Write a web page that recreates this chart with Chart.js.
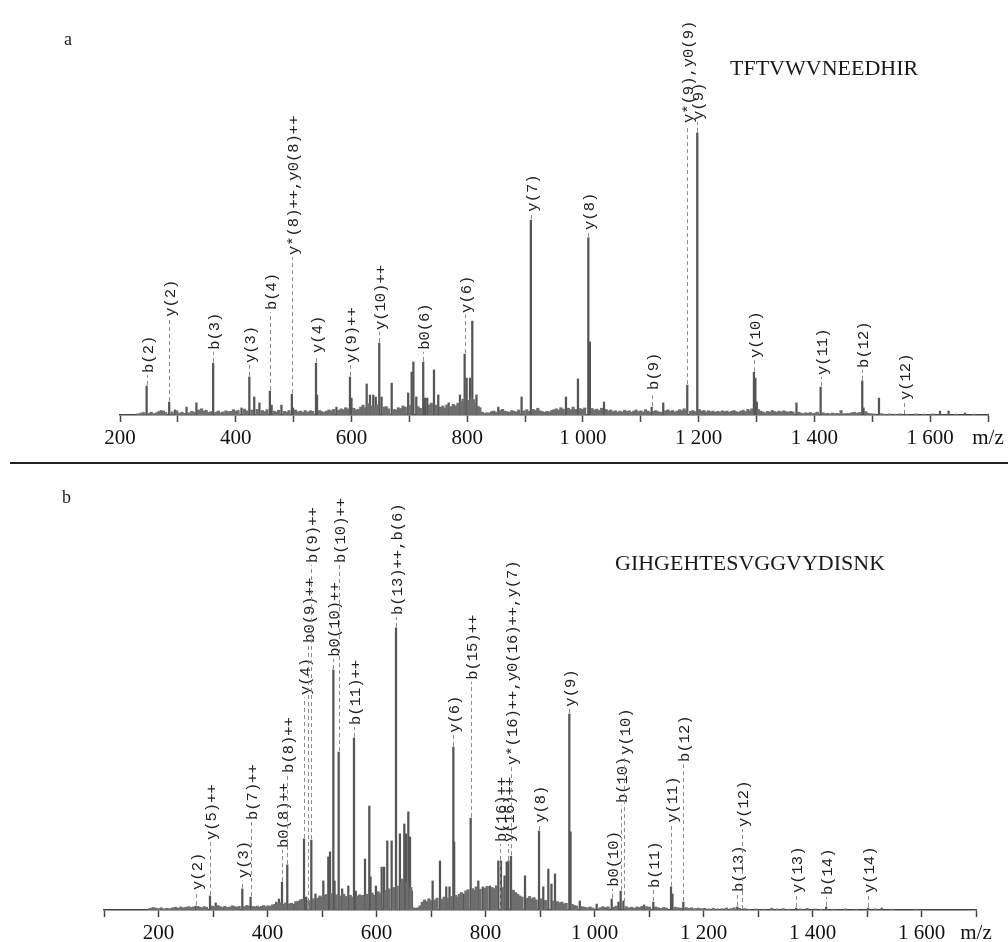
<!DOCTYPE html>
<html>
<head>
<meta charset="utf-8">
<script src="https://cdn.jsdelivr.net/npm/chart.js@4.4.1/dist/chart.umd.min.js"></script>
<style>
  html, body { margin: 0; padding: 0; background: #fff; }
  #page { position: relative; width: 1008px; height: 942px; overflow: hidden; }
  .box { position: absolute; left: 0; width: 1008px; }
  #boxA { top: 0; height: 463px; }
  #boxB { top: 463px; height: 479px; }
  .txt { position: absolute; font-family: 'Liberation Serif', 'Times New Roman', serif; color: #1a1a1a; white-space: nowrap; }
  #rule { position: absolute; left: 10px; top: 462px; width: 998px; height: 2px; background: #222; }
</style>
</head>
<body>
<div id="page">
  <div class="box" id="boxA"><canvas id="specA" width="1008" height="463"></canvas></div>
  <div class="box" id="boxB"><canvas id="specB" width="1008" height="479"></canvas></div>
  <div id="rule"></div>
  <div class="txt" style="left:64px;top:30px;font-size:18px;line-height:18px;">a</div>
  <div class="txt" style="left:62px;top:488px;font-size:18px;line-height:18px;">b</div>
  <div class="txt" style="left:730px;top:57px;font-size:22px;line-height:22px;">TFTVWVNEEDHIR</div>
  <div class="txt" style="left:615px;top:552px;font-size:22px;line-height:22px;">GIHGEHTESVGGVYDISNK</div>
</div>
<script>
// ---- spectrum a : TFTVWVNEEDHIR  [m/z, relative intensity %] ----
const peaksA = [
  [246,10.3],[285,4.6],[295,1.8],[315,2.8],[332,4.3],[361,18.4],[410,2.5],[423.5,13.5],
  [432,6.4],[441,4.3],[459,8.5],[462,3.5],[479,3.5],[497,7.4],[499,2.5],[538.7,18.4],
  [540.5,7.1],[574,2.8],[597.4,13.5],[600,6.0],[626.3,11.0],[632,7.1],[637.7,7.1],[642,6.4],
  [648,25.5],[652,6.4],[669.5,11.3],[698,7.8],[704,15.2],[707,18.8],[712,6.4],[724,18.8],
  [727,6.0],[731,6.0],[742.6,16.0],[750,7.1],[768,4.3],[787.5,7.1],[795.6,21.6],[799,13.1],
  [804.8,13.1],[808.8,33.3],[816,7.1],[853.7,2.8],[894,6.4],[910,69.1],[970.7,6.4],[991.4,12.8],
  [1009.3,62.8],[1012,25.9],[1036.4,4.6],[1118.8,2.8],[1138.8,4.3],[1180.3,10.6],[1197.6,100],
  [1295.5,15.2],[1298,13.1],[1300.5,4.6],[1369,4.3],[1410.8,9.9],[1482.7,12.1],[1485,2.5],
  [1511.6,6.0],[1617,1.4],[1632,1.4],[1660,0.7]
];
const grassA = [
  [230,0.4],[236,0.7],[241,0.9],[250,0.6],[254,1.0],[258,0.5],[263,0.8],[267,1.2],[271,1.6],[275,1.4],
  [279,0.9],[290,1.1],[298,1.5],[302,0.7],[307,1.0],[311,0.6],[319,0.8],[324,1.3],[328,1.0],[336,1.8],
  [341,2.2],[345,1.4],[349,1.7],[353,0.9],[357,1.2],[366,1.0],[370,1.4],[374,0.8],[378,1.1],[383,1.5],
  [387,1.2],[391,1.3],[396,1.9],[400,1.4],[404,1.6],[415,2.1],[419,1.5],[428,1.8],[437,2.0],[446,1.6],
  [450,1.2],[454,1.9],[466,1.4],[470,1.1],[474,1.7],[484,1.3],[488,1.0],[492,1.6],[503,1.8],[507,1.2],
  [512,1.4],[516,1.0],[520,1.6],[525,1.1],[529,1.5],[533,1.3],[545,1.6],[549,1.2],[553,1.0],[557,1.4],
  [561,1.8],[565,1.5],[569,2.0],[578,1.7],[582,2.2],[586,1.9],[590,2.6],[594,2.2],[604,2.4],[608,1.8],
  [612,2.0],[616,2.8],[620,3.5],[623,2.6],[629,4.0],[635,3.2],[640,2.9],[645,3.6],[656,2.8],[660,3.0],
  [664,2.2],[673,2.0],[677,1.8],[681,2.6],[685,2.3],[689,3.2],[693,2.8],[701,3.4],[715,3.0],[719,2.4],
  [735,3.6],[738,4.2],[746,3.5],[754,2.8],[758,3.2],[762,2.5],[765,3.6],[772,3.0],[776,3.8],[780,3.3],
  [784,4.2],[790,4.8],[793,5.6],[802,5.2],[807,6.0],[811,5.5],[813,4.2],[819,3.0],[822,2.6],[826,1.0],
  [830,0.6],[834,0.8],[838,0.7],[842,1.2],[846,1.4],[850,1.0],[857,1.6],[861,2.0],[865,1.4],[869,1.2],
  [873,1.0],[877,1.6],[881,1.3],[885,1.1],[889,1.8],[898,1.5],[903,1.9],[906,1.3],[914,2.0],[918,1.6],
  [922,2.4],[926,1.5],[930,1.2],[934,1.0],[938,1.3],[942,1.1],[946,1.6],[950,1.9],[954,2.2],[958,1.8],
  [962,2.6],[966,2.1],[975,2.4],[979,1.9],[983,2.8],[987,2.0],[995,2.3],[999,2.0],[1003,2.5],[1016,2.3],
  [1020,1.8],[1024,2.1],[1028,1.6],[1032,2.4],[1040,2.0],[1044,1.5],[1048,1.8],[1052,1.2],[1056,1.5],
  [1060,1.0],[1064,1.4],[1068,1.1],[1072,1.7],[1076,1.3],[1080,1.5],[1084,1.0],[1088,1.4],[1092,1.8],
  [1096,1.2],[1100,1.5],[1104,1.1],[1108,1.9],[1112,1.4],[1115,1.0],[1122,1.3],[1126,1.6],[1130,1.2],
  [1134,1.0],[1143,1.5],[1147,1.8],[1151,1.3],[1155,1.6],[1159,1.1],[1163,1.4],[1167,1.9],[1171,1.6],
  [1175,2.2],[1178,1.5],[1186,1.3],[1190,1.6],[1194,1.2],[1201,2.0],[1205,1.4],[1209,1.6],[1213,1.1],
  [1217,1.5],[1221,1.2],[1225,1.4],[1229,1.0],[1233,1.3],[1237,1.1],[1241,1.5],[1245,1.2],[1249,1.4],
  [1253,1.0],[1257,1.3],[1261,1.6],[1265,1.2],[1269,1.0],[1273,1.4],[1277,1.7],[1281,1.2],[1285,2.0],
  [1289,1.5],[1292,2.2],[1303,2.0],[1307,1.4],[1311,1.1],[1315,0.8],[1319,1.3],[1323,1.0],[1327,1.6],
  [1331,1.2],[1335,1.0],[1339,1.4],[1343,1.1],[1347,1.5],[1351,1.2],[1355,1.0],[1359,1.3],[1363,1.1],
  [1373,1.0],[1377,0.7],[1381,0.5],[1385,0.8],[1389,0.6],[1393,0.9],[1397,0.5],[1401,0.7],[1405,1.0],
  [1415,0.8],[1419,0.5],[1423,0.6],[1427,0.4],[1431,0.7],[1435,0.5],[1440,0.6],[1446,1.6],[1452,0.5],
  [1458,0.6],[1464,0.8],[1469,1.0],[1474,0.7],[1478,0.9],[1489,1.2],[1493,0.6],[1498,0.5],[1504,0.4],
  [1516,0.5],[1522,0.3],[1530,0.4],[1540,0.3],[1548,0.4],[1560,0.3],[1575,0.4],[1590,0.3],[1605,0.4],
  [1645,0.3],[1675,0.3]
];
// [m/z, label start (intensity %), text]
const ionsA = [
  [246,14.9,'b(2)'],[285,34.8,'y(2)'],[361,23.1,'b(3)'],[423.5,18.4,'y(3)'],[459,37.2,'b(4)'],
  [497,56.7,'y*(8)++,y0(8)++'],[538.7,22.0,'y(4)'],[597.4,18.4,'y(9)++'],[648,30.1,'y(10)++'],
  [724,23.1,'b0(6)'],[795.6,36.2,'y(6)'],[910,72.1,'y(7)'],[1009.3,65.6,'y(8)'],[1118.8,8.9,'b(9)'],
  [1180.3,103.5,'y*(9),y0(9)'],[1197.6,104.6,'y(9)'],[1295.5,20.2,'y(10)'],[1410.8,14.2,'y(11)'],
  [1482.7,16.7,'b(12)'],[1554.7,5.3,'y(12)']
];

// ---- spectrum b : GIHGEHTESVGGVYDISNK ----
const peaksB = [
  [268,1.4],[294.5,5.0],[305,2.5],[353.8,7.5],[369,4.6],[416,2.8],[421,3.9],[426.6,9.9],[436.3,16.0],
  [449,2.1],[455,2.8],[467,25.2],[471,4.6],[480.4,24.8],[488,5.7],[502.4,10.3],[511.6,18.8],[514.7,20.6],
  [520.8,85.1],[523,10.3],[530.6,56.0],[537,7.5],[548.3,8.5],[558.7,61.0],[562,6.7],[578.9,18.1],
  [586.8,36.9],[589,11.7],[599,8.5],[609.5,15.2],[614,15.2],[619.8,24.5],[627.8,24.5],[635.8,100],
  [643,27.0],[651,30.5],[654,27.0],[658.4,34.8],[661.5,25.9],[665,6.7],[703,10.3],[716.5,17.4],
  [728,8.2],[734,8.2],[741,57.8],[742.5,24.1],[760,5.7],[772.8,32.6],[786.8,10.3],[795,8.2],[808,8.5],
  [823.5,17.4],[828.4,17.4],[835,12.1],[838.9,17.0],[842,17.4],[846.8,19.1],[872.5,12.1],[898.2,28.0],
  [906,8.2],[915.3,14.5],[921,9.2],[927.5,12.8],[953.8,69.5],[956,27.7],[973,3.2],[1004,2.1],
  [1031.5,3.9],[1044,2.8],[1048,6.7],[1053,3.2],[1091,1.8],[1107.9,2.8],[1140.4,8.2],[1143,5.7],
  [1163,2.8],[1262,1.1],[1370,0.7],[1425,1.1],[1502,0.7],[1527,0.7]
];
const grassB = [
  [185,0.6],[190,0.9],[195,0.7],[200,0.5],[205,0.8],[210,0.4],[215,0.6],[220,0.5],[226,0.8],[231,1.0],
  [236,0.7],[241,1.1],[246,0.8],[251,1.0],[256,1.2],[261,0.9],[264,1.1],[272,1.3],[276,1.0],[280,0.8],
  [284,1.2],[288,1.0],[299,1.4],[303,1.1],[309,1.6],[313,1.2],[318,1.0],[322,1.3],[327,0.9],[331,1.1],
  [336,1.5],[340,1.2],[344,1.0],[348,1.3],[358,1.2],[362,1.6],[365,1.4],[373,1.3],[377,1.1],[381,1.4],
  [385,1.0],[389,1.3],[393,1.6],[397,1.2],[401,1.5],[405,1.3],[409,1.8],[413,2.0],[419,2.2],[424,2.6],
  [430,2.0],[433,2.5],[440,2.2],[444,2.4],[452,3.0],[458,3.2],[461,3.6],[464,3.8],[476,3.4],[484,4.0],
  [492,4.2],[496,5.0],[499,4.6],[505,5.2],[508,5.5],[517,5.8],[526,5.4],[533,5.0],[540,5.6],[544,4.8],
  [552,5.2],[555,4.6],[565,5.0],[569,5.4],[572,4.8],[575,5.2],[582,5.6],[592,6.0],[595,5.2],[603,6.5],
  [606,5.8],[617,7.0],[623,7.5],[631,8.0],[638,8.5],[646,9.5],[648,11.0],[656,10.0],[663,8.0],[668,0.8],
  [672,0.6],[676,0.8],[680,1.5],[684,2.8],[688,3.6],[692,3.0],[696,4.0],[699,3.4],[707,3.6],[711,4.2],
  [720,3.8],[724,4.6],[731,4.2],[737,4.8],[745,5.2],[748,4.6],[752,5.6],[756,6.2],[764,6.8],[768,7.2],
  [776,7.6],[780,7.0],[783,8.2],[790,7.4],[799,7.8],[803,8.4],[812,8.0],[816,7.6],[820,8.6],[832,8.0],
  [851,7.0],[855,6.2],[859,5.6],[863,5.0],[867,4.6],[877,4.2],[881,4.8],[885,4.0],[889,4.4],[893,3.6],
  [902,4.0],[910,3.4],[925,3.2],[932,3.0],[936,2.6],[940,2.8],[944,2.2],[948,2.4],[959,2.0],[963,1.6],
  [967,1.4],[977,1.2],[982,1.0],[987,0.8],[992,1.1],[997,0.7],[1010,0.8],[1015,1.2],[1020,0.9],[1025,1.1],
  [1036,1.0],[1040,1.4],[1058,1.2],[1063,0.8],[1068,1.0],[1073,0.7],[1078,1.1],[1083,0.9],[1087,1.3],
  [1096,1.2],[1101,1.0],[1112,1.1],[1117,0.8],[1122,0.6],[1127,0.9],[1132,0.7],[1148,1.0],[1153,0.8],
  [1158,0.7],[1168,0.9],[1173,0.6],[1178,0.8],[1184,0.5],[1190,0.7],[1196,0.5],[1202,0.6],[1210,0.4],
  [1218,0.6],[1226,0.4],[1234,0.5],[1242,0.7],[1250,0.5],[1256,0.8],[1266,0.6],[1276,0.5],[1284,0.3],
  [1296,0.4],[1310,0.3],[1325,0.6],[1336,0.4],[1346,0.5],[1356,0.3],[1378,0.4],[1390,0.6],[1405,0.4],
  [1416,0.3],[1440,0.3],[1460,0.4],[1480,0.3],[1515,0.4],[1545,0.3],[1590,0.3]
];
const ionsB = [
  [268,7.1,'y(2)'],[294.5,24.8,'y(5)++'],[353.8,11.3,'y(3)'],[369,31.9,'b(7)++'],[426.6,22.0,'b0(8)++'],
  [436.3,48.6,'b(8)++'],[467,76.2,'y(4)'],[474,94.7,'b0(9)++'],[480.4,123.0,'b(9)++'],
  [520.8,89.8,'b0(10)++'],[530.6,123.0,'b(10)++'],[558.7,65.6,'b(11)++'],[635.8,104.6,'b(13)++,b(6)'],
  [741,62.8,'y(6)'],[772.8,81.6,'b(15)++'],[826,24.1,'b(16)++'],[841,24.1,'y(16)++'],
  [846.8,51.4,'y*(16)++,y0(16)++,y(7)'],[898.2,30.9,'y(8)'],[953.8,72.1,'y(9)'],[1031.5,8.2,'b0(10)'],
  [1048,37.9,'b(10)'],[1054.7,55.0,'y(10)'],[1107.9,7.8,'b(11)'],[1140.4,30.9,'y(11)'],[1163,52.5,'b(12)'],
  [1262,6.4,'b(13)'],[1270,29.4,'y(12)'],[1370,6.0,'y(13)'],[1425,5.3,'b(14)'],[1502,6.0,'y(14)']
];

// axis tick labels (others are minor ticks)
const tickText = {200:'200',400:'400',600:'600',800:'800',1000:'1 000',1200:'1 200',1400:'1 400',1600:'1 600',1700:'m/z'};

// dashed leader lines + rotated ion labels
function ionLabels(ions, peaks, grass) {
  return {
    id: 'ionLabels',
    afterDatasetsDraw(chart) {
      const ctx = chart.ctx, xs = chart.scales.x, ys = chart.scales.y;
      ctx.save();
      ctx.font = '15.5px "Liberation Mono", "DejaVu Sans Mono", monospace';
      ctx.fillStyle = '#222';
      ions.forEach(([mz, pos, text]) => {
        const x = Math.round(xs.getPixelForValue(mz)) + 0.5;
        let top = 0;
        peaks.concat(grass).forEach(([m, v]) => { if (Math.abs(m - mz) < 1.2 && v > top) top = v; });
        const yPeak = ys.getPixelForValue(top);
        const yLab = ys.getPixelForValue(pos);
        if (yPeak - yLab > 6) {
          ctx.strokeStyle = '#8c8c8c';
          ctx.lineWidth = 1;
          ctx.setLineDash([4, 3]);
          ctx.beginPath();
          ctx.moveTo(x, yPeak - 1);
          ctx.lineTo(x, yLab + 2);
          ctx.stroke();
        }
        ctx.save();
        ctx.translate(x, yLab);
        ctx.rotate(-Math.PI / 2);
        ctx.textAlign = 'left';
        ctx.textBaseline = 'middle';
        ctx.fillText(text, 0, 1);
        ctx.restore();
      });
      ctx.restore();
    }
  };
}

function spectrum(id, peaks, grass, ions, xmin, pad, axisH) {
  return new Chart(document.getElementById(id), {
    type: 'bar',
    data: {
      datasets: [
        { data: grass.map(([x, y]) => ({x, y})), backgroundColor: '#6e6e6e', barThickness: 2.5, grouped: false },
        { data: peaks.map(([x, y]) => ({x, y})), backgroundColor: '#555', barThickness: 1.6, grouped: false }
      ]
    },
    options: {
      responsive: false,
      animation: false,
      events: [],
      layout: { padding: pad },
      plugins: { legend: { display: false }, tooltip: { enabled: false } },
      scales: {
        x: {
          type: 'linear', min: xmin, max: 1700, offset: false,
          border: { display: true, color: '#444', width: 1.6 },
          grid: { drawOnChartArea: false, drawTicks: true, tickLength: 7, tickColor: '#444', tickWidth: 1.5, offset: false },
          ticks: {
            stepSize: 100, autoSkip: false, maxRotation: 0, padding: 4, color: '#111',
            font: { family: "'Liberation Serif', serif", size: 21 },
            callback: v => tickText[Math.round(v)] || ''
          },
          afterFit: s => { s.height = axisH; }
        },
        y: { display: false, min: 0, max: 145 }
      }
    },
    plugins: [ionLabels(ions, peaks, grass)]
  });
}

spectrum('specA', peaksA, grassA, ionsA, 200, { left: 120, right: 20, top: 6, bottom: 0 }, 48);
spectrum('specB', peaksB, grassB, ionsB, 100, { left: 104, right: 32, top: 38, bottom: 0 }, 32);
</script>
</body>
</html>
